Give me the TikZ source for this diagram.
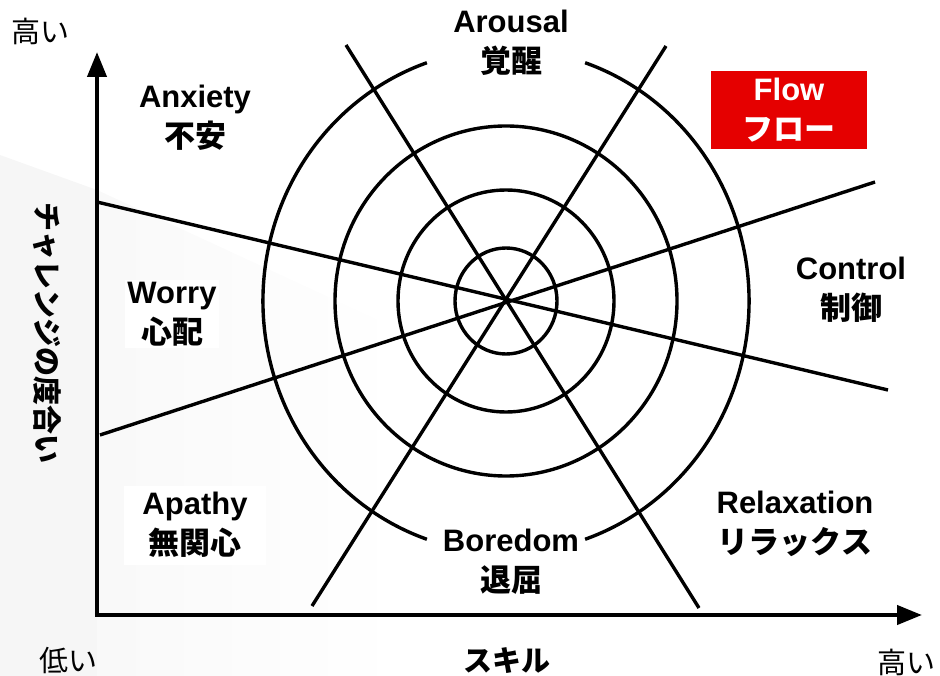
\documentclass[tikz,border=0pt]{standalone}
\usepackage{fontspec}
\setmainfont{Liberation Sans}
\newfontfamily\jp{Noto Sans CJK JP}
\usetikzlibrary{arrows.meta,positioning}
\definecolor{flowRed}{HTML}{E50000}
\definecolor{bgGray}{HTML}{F6F6F6}
\begin{document}
\begin{tikzpicture}[x=1pt,y=-1pt,
  lbl/.style={align=center,inner sep=2pt,font=\fontsize{31}{40}\selectfont\bfseries},
  tick/.style={inner sep=0pt,font=\fontsize{29}{32}\selectfont\jp},
  axis/.style={line width=4.2pt,-{Triangle[length=25pt,width=19pt]}},
  ray/.style={line width=3.4pt},
  ring/.style={line width=3.4pt}]
\useasboundingbox (0,0) rectangle (940,676);
% faint backdrop on the left
\fill[bgGray] (0,155) -- (97,190) -- (97,676) -- (0,676) -- cycle;
\shade[left color=bgGray!70,right color=white] (97,190) -- (400,330) -- (400,676) -- (97,676) -- cycle;
\coordinate (c) at (506,301);
% rings
\foreach \rx/\ry in {51/53,108/111,171/175}
  \draw[ring] (c) ellipse [x radius=\rx, y radius=\ry];
\draw[ring] (c) ++(-71:243 and 252) arc [start angle=-71, end angle=71, x radius=243, y radius=252];
\draw[ring] (c) ++(109:243 and 252) arc [start angle=109, end angle=251, x radius=243, y radius=252];
% rays through the centre
\coordinate (a1) at (97,202);  \coordinate (a2) at (888,390);
\coordinate (b1) at (100,435); \coordinate (b2) at (875,182);
\coordinate (c1) at (346,45);  \coordinate (c2) at (699,608);
\coordinate (d1) at (666,46);  \coordinate (d2) at (312,606);
\draw[ray] (a1) -- (a2);
\draw[ray] (b1) -- (b2);
\draw[ray] (c1) -- (c2);
\draw[ray] (d1) -- (d2);
% axes
\coordinate (o) at (97,615);
\coordinate (ytop) at (97,52);
\coordinate (xend) at (922,615);
\draw[axis] (o) -- (ytop);
\draw[axis] ([xshift=-2.1pt]o) -- (xend);
% states
\node[lbl] (anx) at (195,118) {Anxiety\\{\jp 不安}};
\node[lbl] (aro) at (511,43) {Arousal\\{\jp 覚醒}};
\node[lbl,fill=flowRed,text=white,minimum width=156pt,minimum height=78pt] (flow) at (789,110) {Flow\\{\jp フロー}};
\node[lbl] (ctl) at (851,290) {Control\\{\jp 制御}};
\node[lbl,fill=white] (wor) at (172,314) {Worry\\{\jp 心配}};
\node[lbl,fill=white,minimum width=142pt,minimum height=79pt] (apa) at (195,525) {Apathy\\{\jp 無関心}};
\node[lbl] (bor) at (511,562) {Boredom\\{\jp 退屈}};
\node[lbl] (rel) at (795,524) {Relaxation\\{\jp リラックス}};
% axis labels
\node[tick] (hiY) at (41,31) {高い};
\node[tick] (lo) at (68,661) {低い};
\node[tick] (hiX) at (906,662) {高い};
\node[tick,font=\fontsize{29}{32}\selectfont\jp\bfseries] (skill) at (507,661) {スキル};
\node[tick,font=\fontsize{29}{32}\selectfont\jp\bfseries,rotate=-90] (chal) at (47,333) {チャレンジの度合い};
\end{tikzpicture}
\end{document}
